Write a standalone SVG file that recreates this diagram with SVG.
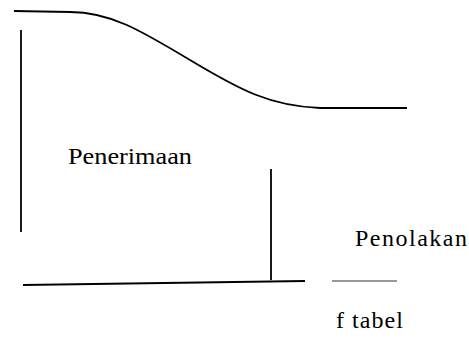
<svg xmlns="http://www.w3.org/2000/svg" width="469" height="359" viewBox="0 0 469 359">
<style>
.ln{fill:none;stroke:#000;stroke-width:1.8;stroke-linecap:butt}
.thin{fill:none;stroke:#333;stroke-width:1.2}
.t{font-family:"Liberation Serif","Times New Roman",serif;fill:#000;font-size:24px}
</style>
<rect width="469" height="359" fill="#fff"/>
<g id="curve">
<path class="ln" d="M14,11 L70,12 C110,12 140,30 190,60 S270,106 320,108 L407,108"/>
</g>
<g id="axes">
<line class="ln" x1="21" y1="30" x2="21" y2="232"/>
<line class="ln" x1="271" y1="169" x2="271" y2="280"/>
<line class="ln" x1="23" y1="285" x2="305" y2="281"/>
<line class="thin" x1="332" y1="281" x2="397" y2="281"/>
</g>
<g id="labels">
<text class="t" x="68" y="164" textLength="124" lengthAdjust="spacingAndGlyphs">Penerimaan</text>
<text class="t" x="355" y="246" textLength="112" lengthAdjust="spacing">Penolakan</text>
<text class="t" x="336" y="328" textLength="67" lengthAdjust="spacing">f tabel</text>
</g>
</svg>
